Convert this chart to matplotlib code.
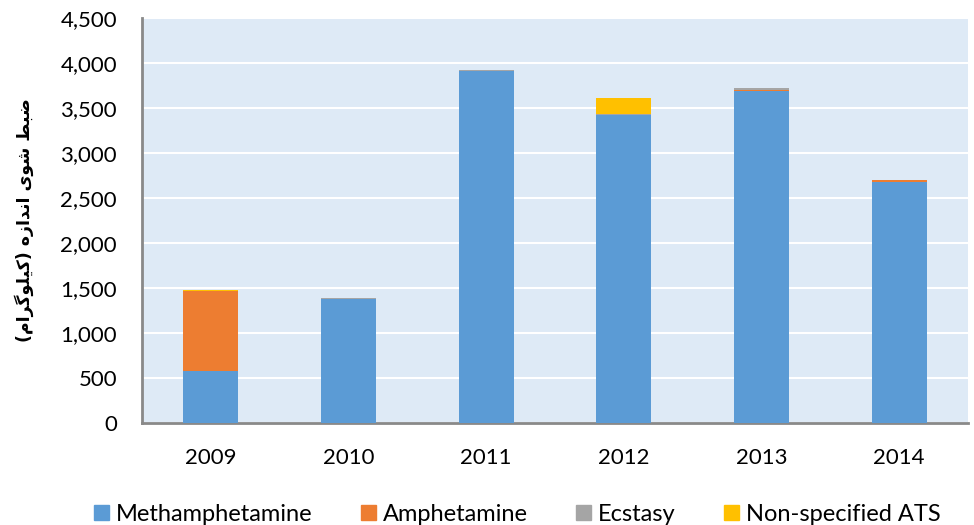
import numpy as np
import matplotlib
matplotlib.use("Agg")
import matplotlib.pyplot as plt
import matplotlib.patches as mpatches
from matplotlib.ticker import FuncFormatter

# Seizures of ATS by year (kg), stacked by type
years = ["2009", "2010", "2011", "2012", "2013", "2014"]
methamphetamine = [575, 1375, 3915, 3425, 3690, 2680]
amphetamine = [895, 5, 0, 0, 15, 20]
ecstasy = [0, 8, 3, 3, 12, 5]
non_specified = [12, 0, 0, 185, 0, 0]

series_names = ["Methamphetamine", "Amphetamine", "Ecstasy", "Non-specified ATS"]
series_colors = ["#5B9BD5", "#ED7D31", "#A5A5A5", "#FFC000"]

y_label = "ضبط شوی اندازه (کیلوگرام)"

# minimal Arabic-script shaping (matplotlib does no shaping / bidi)
FORMS = {  # iso, fin, ini, med
    "ض": ("\uFEBD", "\uFEBE", "\uFEBF", "\uFEC0"),
    "ب": ("\uFE8F", "\uFE90", "\uFE91", "\uFE92"),
    "ط": ("\uFEC1", "\uFEC2", "\uFEC3", "\uFEC4"),
    "ش": ("\uFEB5", "\uFEB6", "\uFEB7", "\uFEB8"),
    "و": ("\uFEED", "\uFEEE", None, None),
    "ی": ("\uFBFC", "\uFBFD", "\uFBFE", "\uFBFF"),
    "ا": ("\uFE8D", "\uFE8E", None, None),
    "ن": ("\uFEE5", "\uFEE6", "\uFEE7", "\uFEE8"),
    "د": ("\uFEA9", "\uFEAA", None, None),
    "ز": ("\uFEAF", "\uFEB0", None, None),
    "ه": ("\uFEE9", "\uFEEA", "\uFEEB", "\uFEEC"),
    "ک": ("\uFB8E", "\uFB8F", "\uFB90", "\uFB91"),
    "ل": ("\uFEDD", "\uFEDE", "\uFEDF", "\uFEE0"),
    "گ": ("\uFB92", "\uFB93", "\uFB94", "\uFB95"),
    "ر": ("\uFEAD", "\uFEAE", None, None),
    "م": ("\uFEE1", "\uFEE2", "\uFEE3", "\uFEE4"),
}


def shape_rtl(text):
    out = []
    for i, ch in enumerate(text):
        if ch not in FORMS:
            out.append(ch)
            continue
        prev = text[i - 1] if i > 0 else ""
        nxt = text[i + 1] if i + 1 < len(text) else ""
        join_prev = prev in FORMS and FORMS[prev][2] is not None
        join_next = nxt in FORMS and FORMS[ch][2] is not None
        iso, fin, ini, med = FORMS[ch]
        if join_prev and join_next:
            out.append(med)
        elif join_prev:
            out.append(fin)
        elif join_next:
            out.append(ini)
        else:
            out.append(iso)
    visual = "".join(reversed(out))
    return visual.translate(str.maketrans("()", ")("))


plt.rcParams["font.family"] = ["Lato", "DejaVu Sans"]

fig = plt.figure(figsize=(9.74, 5.25), dpi=100)
ax = fig.add_axes([0.1458, 0.1943, 0.848, 0.7714])
ax.set_facecolor("#DEEAF6")

x = np.arange(len(years)) + 0.5
bottom = np.zeros(len(years))
for name, vals, color in zip(series_names, [methamphetamine, amphetamine, ecstasy, non_specified],
                             series_colors):
    ax.bar(x, vals, width=0.4, bottom=bottom, color=color, label=name, zorder=3)
    bottom += np.array(vals)

ax.set_xlim(0, len(years))
ax.set_ylim(0, 4500)
ax.set_yticks(np.arange(0, 4501, 500))
ax.yaxis.set_major_formatter(FuncFormatter(lambda v, _: f"{int(v):,}"))
ax.set_xticks(x)
ax.set_xticklabels(years)
ax.tick_params(axis="both", length=0, labelsize=16, colors="#000000")
ax.tick_params(axis="x", pad=18)
ax.tick_params(axis="y", pad=18)

ax.grid(True, axis="y", color="white", linewidth=1.5, zorder=1)
ax.set_axisbelow(True)
for s in ["top", "right"]:
    ax.spines[s].set_visible(False)
for s in ["left", "bottom"]:
    ax.spines[s].set_color("#898989")
    ax.spines[s].set_linewidth(2)

ax.set_ylabel(shape_rtl(y_label), fontsize=12.5, fontweight="bold",
              family=["DejaVu Sans"], labelpad=19)

handles = [mpatches.Patch(color=c, label=n) for c, n in zip(series_colors, series_names)]
fig.legend(handles=handles, loc="lower center", bbox_to_anchor=(0.531, -0.04), ncol=4,
           frameon=False, fontsize=17, handlelength=0.63, handleheight=0.63,
           handletextpad=0.3, columnspacing=2.05)

fig.savefig("out.png", dpi=100, facecolor="white")
